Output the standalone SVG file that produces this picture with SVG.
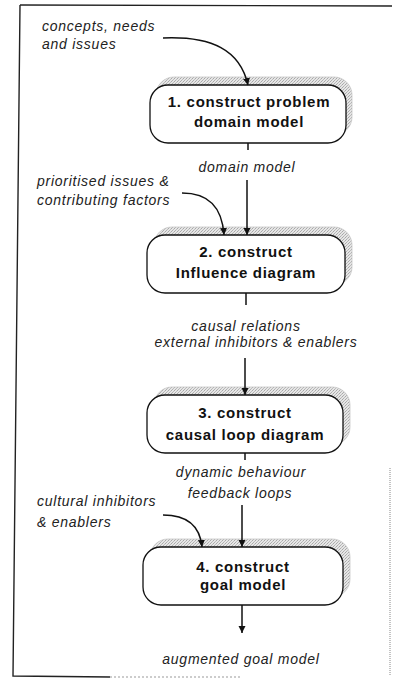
<svg xmlns="http://www.w3.org/2000/svg" width="393" height="679" viewBox="0 0 393 679">
  <defs>
    <!-- halftone fill for the raised shadow behind each step -->
    <pattern id="halftone" width="3" height="3" patternUnits="userSpaceOnUse">
      <rect width="3" height="3" fill="#e6e6e6"/>
      <rect width="1" height="1" fill="#a8a8a8"/>
      <rect x="2" y="1" width="1" height="1" fill="#bcbcbc"/>
      <rect x="1" y="2" width="1" height="1" fill="#b0b0b0"/>
    </pattern>
    <marker id="arrow" viewBox="0 0 10 10" refX="10" refY="5" markerWidth="7" markerHeight="9" markerUnits="userSpaceOnUse" orient="auto">
      <path d="M0,0 L10,5 L0,10 Z" fill="#111"/>
    </marker>
    <style>
      .frame { stroke: #222; stroke-width: 1.4; fill: none; }
      .edge { stroke: #111; stroke-width: 1.5; fill: none; }
      .tick { stroke: #111; stroke-width: 1.5; }
      .shadow { fill: url(#halftone); stroke: #c8c8c8; stroke-width: 0.8; }
      .box { fill: #fff; stroke: #111; stroke-width: 1.3; }
      .step { font-family: "Liberation Sans", Arial, sans-serif; font-weight: bold; font-size: 15px; letter-spacing: 0.7px; fill: #111; text-anchor: middle; }
      .label { font-family: "Liberation Sans", Arial, sans-serif; font-style: italic; font-size: 14px; letter-spacing: 0.75px; fill: #222; }
      .mid { text-anchor: middle; }
    </style>
  </defs>

  <rect width="393" height="679" fill="#fff"/>

  <!-- page frame -->
  <g id="frame">
    <path class="frame" d="M20,5 L392,6"/>
    <path class="frame" d="M20,5 L13,676 L110,677"/>
    <path d="M110,677 L240,677" stroke="#999" stroke-width="1" stroke-dasharray="2,2"/>
    <path d="M390,468 L390,676" stroke="#888" stroke-width="1" stroke-dasharray="1,1"/>
  </g>

  <!-- inputs and outputs -->
  <g id="labels">
    <text class="label" x="42" y="31">concepts, needs</text>
    <text class="label" x="42" y="49">and issues</text>
    <text class="label mid" x="247" y="172">domain model</text>
    <text class="label" x="37" y="186">prioritised issues &amp;</text>
    <text class="label" x="37" y="205">contributing factors</text>
    <text class="label mid" x="246" y="331">causal relations</text>
    <text class="label mid" x="256" y="347">external inhibitors &amp; enablers</text>
    <text class="label mid" x="241" y="477">dynamic behaviour</text>
    <text class="label mid" x="240" y="498">feedback loops</text>
    <text class="label" x="37" y="506">cultural inhibitors</text>
    <text class="label" x="37" y="527">&amp; enablers</text>
    <text class="label mid" x="241" y="664">augmented goal model</text>
  </g>

  <!-- step 1 -->
  <g id="step1">
    <rect class="shadow" x="156" y="77" width="196" height="58" rx="18"/>
    <rect class="box" x="150" y="85" width="196" height="58" rx="18"/>
    <text class="step" x="249" y="107">1. construct problem</text>
    <text class="step" x="249" y="127">domain model</text>
  </g>

  <!-- step 2 -->
  <g id="step2">
    <rect class="shadow" x="154" y="227" width="198" height="58" rx="18"/>
    <rect class="box" x="147" y="235" width="198" height="58" rx="18"/>
    <text class="step" x="246" y="257">2. construct</text>
    <text class="step" x="246" y="278">Influence diagram</text>
  </g>

  <!-- step 3 -->
  <g id="step3">
    <rect class="shadow" x="154" y="387" width="196" height="58" rx="18"/>
    <rect class="box" x="147" y="395" width="196" height="58" rx="18"/>
    <text class="step" x="245" y="418">3. construct</text>
    <text class="step" x="245" y="440">causal loop diagram</text>
  </g>

  <!-- step 4 -->
  <g id="step4">
    <rect class="shadow" x="150" y="539" width="200" height="58" rx="18"/>
    <rect class="box" x="143" y="547" width="200" height="58" rx="18"/>
    <text class="step" x="243" y="572">4. construct</text>
    <text class="step" x="243" y="590">goal model</text>
  </g>

  <!-- connectors, drawn last so the arrowheads sit over the shadows -->
  <g id="connectors">
    <path class="edge" d="M163,38 C212,36 240,50 248,85" marker-end="url(#arrow)"/>
    <line class="tick" x1="248" y1="143" x2="248" y2="150"/>
    <path class="edge" d="M247,180 L247,235" marker-end="url(#arrow)"/>
    <path class="edge" d="M182,193 C208,193 222,206 224,235" marker-end="url(#arrow)"/>
    <line class="tick" x1="246" y1="293" x2="246" y2="305"/>
    <path class="edge" d="M245,358 L245,395" marker-end="url(#arrow)"/>
    <line class="tick" x1="245" y1="453" x2="245" y2="460"/>
    <path class="edge" d="M242,505 L242,547" marker-end="url(#arrow)"/>
    <path class="edge" d="M163,515 C188,515 200,526 202,547" marker-end="url(#arrow)"/>
    <path class="edge" d="M242,605 L242,633" marker-end="url(#arrow)"/>
  </g>
</svg>
